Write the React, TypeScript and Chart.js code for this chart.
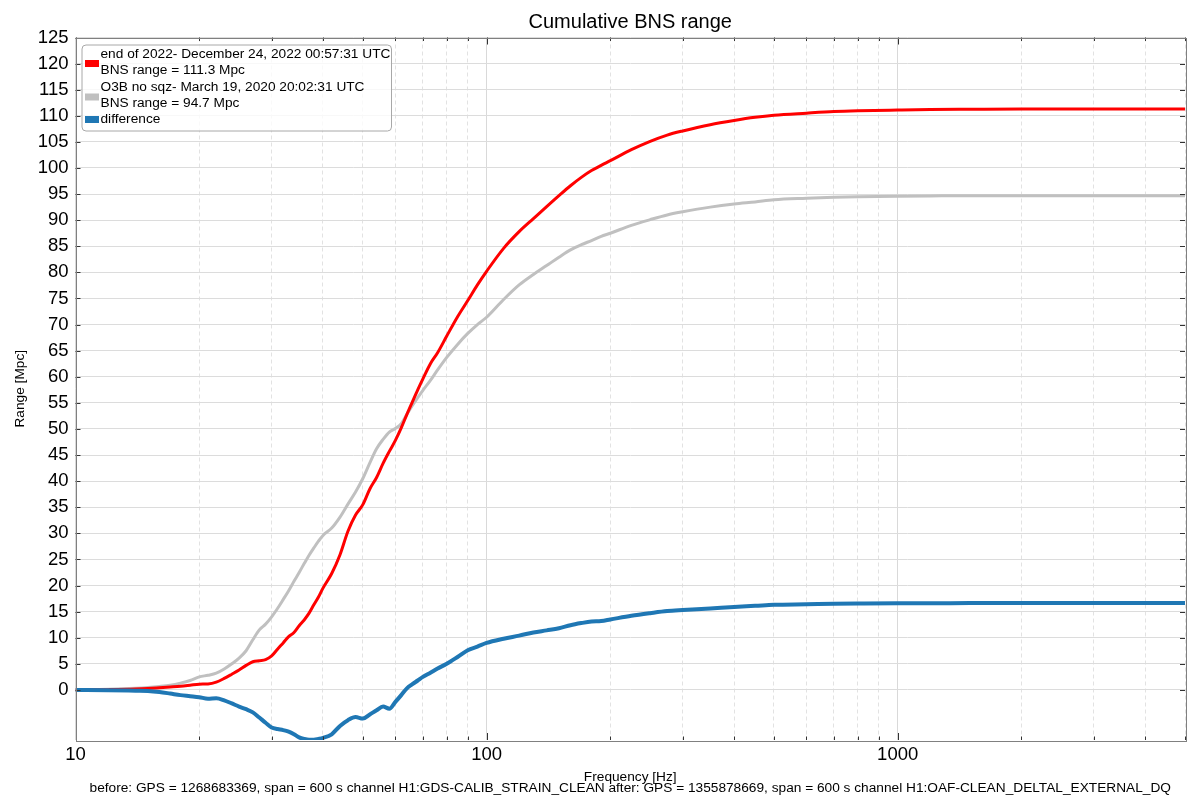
import { useEffect, useRef } from "react";
import { Chart, registerables } from "chart.js";

Chart.register(...registerables);

// frequency grid (Hz) shared by the three curves
const freqHz = [
  10, 12, 14, 15, 16, 17, 18, 19, 20, 21, 22, 23, 24, 25, 26, 27, 28, 29, 30, 31, 32, 33, 34, 35, 36, 37,
  38, 39, 40, 42, 44, 46, 48, 50, 52, 54, 56, 58, 60, 62, 64, 66, 68, 70, 73, 76, 80, 85, 90, 95, 100, 110,
  120, 130, 140, 150, 160, 170, 180, 190, 200, 225, 250, 275, 300, 350, 400, 450, 500, 600, 700, 800, 1000,
  1200, 1500, 2000, 3000, 5000,
];

// end of 2022 cumulative range (Mpc)
const rangeEnd2022 = [
  0, 0.05, 0.15, 0.25, 0.4, 0.55, 0.7, 0.9, 1.1, 1.15, 1.5, 2.2, 3.0, 3.8, 4.7, 5.4, 5.6, 5.8, 6.5, 7.8, 9.0,
  10.2, 11.0, 12.3, 13.4, 14.7, 16.3, 17.8, 19.5, 22.3, 25.9, 30.4, 33.5, 35.5, 38.5, 40.7, 43.4, 45.7, 47.8,
  50.2, 52.8, 55.2, 57.5, 59.6, 62.5, 64.6, 67.8, 71.5, 74.6, 77.6, 80.2, 84.6, 87.8, 90.3, 92.6, 94.7, 96.6,
  98.2, 99.5, 100.5, 101.4, 103.5, 105.1, 106.3, 107.1, 108.3, 109.1, 109.7, 110.1, 110.5, 110.8, 110.95,
  111.1, 111.2, 111.25, 111.3, 111.3, 111.3,
];

// O3B no squeezing cumulative range (Mpc)
const rangeO3B = [
  0, 0.1, 0.3, 0.45, 0.65, 0.9, 1.3, 1.8, 2.5, 2.8, 3.2, 4.0, 5.0, 6.1, 7.5, 9.6, 11.5, 12.6, 14.0, 15.6, 17.3,
  19.0, 20.8, 22.5, 24.2, 25.8, 27.2, 28.5, 29.6, 31.0, 33.1, 35.6, 37.9, 40.5, 43.5, 46.2, 48.0, 49.4, 50.1,
  51.0, 52.8, 54.5, 56.0, 57.4, 59.3, 61.3, 63.7, 66.2, 68.3, 70.0, 71.4, 74.8, 77.6, 79.6, 81.3, 82.9, 84.3,
  85.3, 86.1, 86.9, 87.5, 89.0, 90.1, 91.0, 91.6, 92.5, 93.1, 93.5, 93.9, 94.2, 94.4, 94.5, 94.6, 94.65, 94.7,
  94.7, 94.7, 94.7,
];

// difference (Mpc)
const rangeDiff = [
  0, -0.05, -0.15, -0.2, -0.4, -0.7, -1.0, -1.2, -1.4, -1.7, -1.6, -2.0, -2.6, -3.2, -3.7, -4.3, -5.3, -6.3,
  -7.2, -7.5, -7.7, -8.0, -8.5, -9.1, -9.4, -9.55, -9.55, -9.4, -9.2, -8.5, -6.9, -5.8, -5.2, -5.5, -4.7,
  -3.9, -3.2, -3.6, -2.3, -1.0, 0.3, 1.1, 1.8, 2.5, 3.3, 4.1, 5.0, 6.3, 7.6, 8.3, 9.0, 9.8, 10.4, 11.0, 11.4,
  11.8, 12.4, 12.8, 13.1, 13.2, 13.5, 14.2, 14.7, 15.1, 15.3, 15.6, 15.9, 16.1, 16.3, 16.4, 16.5, 16.55, 16.6,
  16.6, 16.65, 16.65, 16.65, 16.65,
];

const xTickValues = [
  10, 20, 30, 40, 50, 60, 70, 80, 90, 100, 200, 300, 400, 500, 600, 700, 800, 900, 1000, 2000, 3000, 4000, 5000,
];
const xTickLabels = ["10", "100", "1000"];
const yTickValues = [
  0, 5, 10, 15, 20, 25, 30, 35, 40, 45, 50, 55, 60, 65, 70, 75, 80, 85, 90, 95, 100, 105, 110, 115, 120, 125,
];

const seriesColors = ["#ff0000", "#c0c0c0", "#1f77b4"];
const legendLabels = [
  ["end of 2022- December 24, 2022 00:57:31 UTC", "BNS range = 111.3 Mpc"],
  ["O3B no sqz- March 19, 2020 20:02:31 UTC", "BNS range = 94.7 Mpc"],
  ["difference"],
];

const titleText = "Cumulative BNS range";
const xAxisTitle = "Frequency [Hz]";
const yAxisTitle = "Range [Mpc]";
const footerText =
  "before: GPS = 1268683369, span = 600 s channel H1:GDS-CALIB_STRAIN_CLEAN after: GPS = 1355878669, span = 600 s channel H1:OAF-CLEAN_DELTAL_EXTERNAL_DQ";

const FONT = '"Liberation Sans", Arial, sans-serif';

const isDecade = (v: number) => Math.abs(Math.log10(v) - Math.round(Math.log10(v))) < 1e-9;

const decorations = {
  id: "decorations",
  afterDraw(chart: any) {
    const { ctx, chartArea: a, scales } = chart;
    const cx = (a.left + a.right) / 2;
    ctx.save();

    // inward ticks
    ctx.strokeStyle = "#333";
    ctx.lineWidth = 1;
    ctx.beginPath();
    for (const v of yTickValues) {
      const py = Math.round(scales.y.getPixelForValue(v)) + 0.5;
      ctx.moveTo(a.left, py);
      ctx.lineTo(a.left + 5, py);
      ctx.moveTo(a.right, py);
      ctx.lineTo(a.right - 5, py);
    }
    for (const v of xTickValues) {
      const px = Math.round(scales.x.getPixelForValue(v)) + 0.5;
      const len = isDecade(v) ? 7 : 3.5;
      ctx.moveTo(px, a.bottom);
      ctx.lineTo(px, a.bottom - len);
      ctx.moveTo(px, a.top);
      ctx.lineTo(px, a.top + len);
    }
    ctx.stroke();

    // frame
    ctx.strokeStyle = "#808080";
    ctx.strokeRect(Math.round(a.left) + 0.5, Math.round(a.top) + 0.5, Math.round(a.right - a.left), Math.round(a.bottom - a.top));

    // texts
    ctx.fillStyle = "#000";
    ctx.textAlign = "center";
    ctx.textBaseline = "middle";
    ctx.font = `20px ${FONT}`;
    ctx.fillText(titleText, cx, 22);
    ctx.font = `13.7px ${FONT}`;
    ctx.fillText(xAxisTitle, cx, 777);
    ctx.fillText(footerText, cx, 788);
    ctx.save();
    ctx.translate(20.5, (a.top + a.bottom) / 2);
    ctx.rotate(-Math.PI / 2);
    ctx.fillText(yAxisTitle, 0, 0);
    ctx.restore();

    // legend
    const bx = a.left + 6.5;
    const by = a.top + 7.5;
    ctx.beginPath();
    ctx.roundRect(bx, by, 309.5, 86, 4);
    ctx.fillStyle = "rgba(255,255,255,0.8)";
    ctx.fill();
    ctx.strokeStyle = "#a8a8a8";
    ctx.stroke();
    const rowY = [[9, 25], [42, 58], [74]];
    const swatchY = [18.5, 52, 74.5];
    ctx.textAlign = "left";
    legendLabels.forEach((lines, i) => {
      ctx.fillStyle = seriesColors[i];
      ctx.fillRect(bx + 3, by + swatchY[i] - 3.5, 14, 7);
      ctx.fillStyle = "#000";
      lines.forEach((t, j) => ctx.fillText(t, bx + 18.5, by + rowY[i][j]));
    });
    ctx.restore();
  },
};

export default function App() {
  const chartRef = useRef<HTMLCanvasElement>(null);
  const chartInstance = useRef<Chart | null>(null);

  useEffect(() => {
    document.body.style.margin = "0";
    if (!chartRef.current) return;
    const ctx = chartRef.current.getContext("2d");
    if (!ctx) return;
    if (chartInstance.current) chartInstance.current.destroy();

    const series = [rangeEnd2022, rangeO3B, rangeDiff];
    const widths = [3, 3, 4];
    const orders = [1, 2, 0];

    chartInstance.current = new Chart(ctx, {
      type: "line",
      data: {
        datasets: series.map((vals, i) => ({
          label: legendLabels[i].join(" "),
          data: freqHz.map((f, k) => ({ x: f, y: vals[k] })),
          borderColor: seriesColors[i],
          backgroundColor: seriesColors[i],
          borderWidth: widths[i],
          pointRadius: 0,
          cubicInterpolationMode: "monotone" as const,
          order: orders[i],
        })),
      },
      options: {
        animation: false,
        responsive: true,
        maintainAspectRatio: false,
        devicePixelRatio: 1,
        layout: { padding: { top: 37.5, right: 15, left: 0, bottom: 0 } },
        plugins: {
          legend: { display: false },
          title: { display: false },
          tooltip: { enabled: false },
        },
        scales: {
          x: {
            type: "logarithmic",
            min: 10,
            max: 5000,
            afterBuildTicks: (scale: any) => {
              scale.ticks = xTickValues.map((v) => ({ value: v, major: isDecade(v) }));
            },
            afterFit: (scale: any) => {
              scale.height = 60;
            },
            ticks: {
              autoSkip: false,
              maxRotation: 0,
              padding: 4,
              color: "#000",
              font: { family: FONT, size: 18.5 },
              callback: (v: any) => (xTickLabels.includes(String(v)) ? String(v) : ""),
            },
            grid: {
              drawTicks: false,
              color: (c: any) => (c.tick && isDecade(c.tick.value) ? "#d9d9d9" : "#e2e2e2"),
              lineWidth: 1,
            },
            border: {
              display: false,
              dash: (c: any) => (c.tick && isDecade(c.tick.value) ? [] : [4, 3]),
            },
          },
          y: {
            type: "linear",
            min: -9.6,
            max: 125,
            afterBuildTicks: (scale: any) => {
              scale.ticks = yTickValues.map((v) => ({ value: v }));
            },
            afterFit: (scale: any) => {
              scale.width = 75.5;
            },
            ticks: {
              autoSkip: false,
              padding: 7,
              color: "#000",
              font: { family: FONT, size: 18.5 },
              callback: (v: any) => String(v),
            },
            grid: { drawTicks: false, color: "#dcdcdc", lineWidth: 1 },
            border: { display: false },
          },
        },
      },
      plugins: [decorations],
    });

    return () => {
      if (chartInstance.current) {
        chartInstance.current.destroy();
        chartInstance.current = null;
      }
    };
  }, []);

  return (
    <div style={{ position: "relative", width: 1200, height: 800, background: "#fff" }}>
      <canvas ref={chartRef} />
    </div>
  );
}
